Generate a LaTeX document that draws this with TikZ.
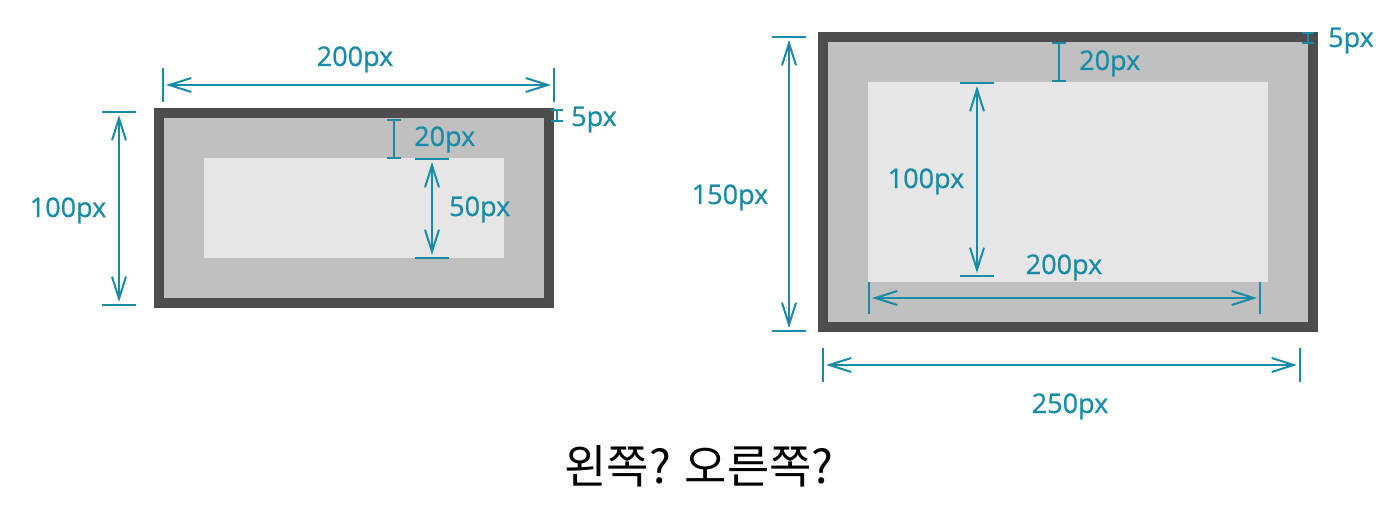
\documentclass[tikz,border=0pt]{standalone}
\usepackage{fontspec}
\setmainfont{Open Sans}
\newfontfamily\dimfont{Open Sans}[FakeBold=0.7]
\newfontfamily\kofont{Noto Sans CJK KR}
\usetikzlibrary{arrows.meta}
\definecolor{dimblue}{RGB}{24,139,168}
\definecolor{borderdark}{RGB}{77,77,77}
\definecolor{padgray}{RGB}{192,192,192}
\definecolor{contentgray}{RGB}{230,230,230}
\begin{document}
\begin{tikzpicture}[x=1pt, y=-1pt,
			dim_style/.style={draw=dimblue, line width=2pt, shorten >=3pt, shorten <=3pt,
				{Straight Barb[length=22pt,width=14pt]}-{Straight Barb[length=22pt,width=14pt]}},
			tick_style/.style={draw=dimblue, line width=2pt},
			label_style/.style={text=dimblue, inner sep=0pt, anchor=base, font=\dimfont\fontsize{27}{30}\selectfont}]
			\useasboundingbox (0,0) rectangle (1400,508);
			% left box
			\fill[borderdark] (154,108) rectangle (554,308);
			\fill[padgray] (164,118) rectangle (544,298);
			\fill[contentgray] (204,158) rectangle (504,258);
			% right box
			\fill[borderdark] (818,32) rectangle (1318,332);
			\fill[padgray] (828,42) rectangle (1308,322);
			\fill[contentgray] (868,82) rectangle (1268,282);
			% end points of the measures
			\coordinate (lw_a) at (163,85);   \coordinate (lw_b) at (554,85);
			\coordinate (lh_a) at (119,112);  \coordinate (lh_b) at (119,305);
			\coordinate (lb_a) at (557,110);  \coordinate (lb_b) at (557,121);
			\coordinate (lm_a) at (394,120);  \coordinate (lm_b) at (394,158);
			\coordinate (lc_a) at (432,159);  \coordinate (lc_b) at (432,258);
			\coordinate (rh_a) at (789,37);   \coordinate (rh_b) at (789,331);
			\coordinate (rb_a) at (1308,33);  \coordinate (rb_b) at (1308,43);
			\coordinate (rm_a) at (1059,43);  \coordinate (rm_b) at (1059,81);
			\coordinate (rc_a) at (977,83);   \coordinate (rc_b) at (977,276);
			\coordinate (rcw_a) at (869,298); \coordinate (rcw_b) at (1260,298);
			\coordinate (rw_a) at (823,365);  \coordinate (rw_b) at (1300,365);
			% ticks
			\foreach \c in {lw_a,lw_b} \draw[tick_style] ([yshift=17pt]\c) -- ([yshift=-17pt]\c);
			\foreach \c in {rcw_a,rcw_b} \draw[tick_style] ([yshift=16pt]\c) -- ([yshift=-16pt]\c);
			\foreach \c in {rw_a,rw_b} \draw[tick_style] ([yshift=17pt]\c) -- ([yshift=-17pt]\c);
			\foreach \c in {lh_a,lh_b,rh_a,rh_b,rc_a,rc_b} \draw[tick_style] ([xshift=-17pt]\c) -- ([xshift=17pt]\c);
			\foreach \c in {lc_a,lc_b} \draw[tick_style] ([xshift=-17pt]\c) -- ([xshift=17pt]\c);
			\foreach \c in {lm_a,lm_b,rm_a,rm_b} \draw[tick_style] ([xshift=-7pt]\c) -- ([xshift=7pt]\c);
			\foreach \c in {lb_a,lb_b,rb_a,rb_b} \draw[tick_style] ([xshift=-6pt]\c) -- ([xshift=6pt]\c);
			% measures
			\draw[dim_style] (lw_a) -- (lw_b);
			\draw[dim_style] (lh_a) -- (lh_b);
			\draw[dim_style] (lc_a) -- (lc_b);
			\draw[dim_style] (rh_a) -- (rh_b);
			\draw[dim_style] (rc_a) -- (rc_b);
			\draw[dim_style] (rcw_a) -- (rcw_b);
			\draw[dim_style] (rw_a) -- (rw_b);
			\draw[tick_style] (lb_a) -- (lb_b);
			\draw[tick_style] (lm_a) -- (lm_b);
			\draw[tick_style] (rb_a) -- (rb_b);
			\draw[tick_style] (rm_a) -- (rm_b);
			% labels
			\node[label_style] (lw_t) at (355,66) {200px};
			\node[label_style] (lh_t) at (68,217) {100px};
			\node[label_style, anchor=base west] (lb_t) at (571,126) {5px};
			\node[label_style, anchor=base west] (lm_t) at (414,146) {20px};
			\node[label_style, anchor=base west] (lc_t) at (449,216) {50px};
			\node[label_style] (rh_t) at (730,204) {150px};
			\node[label_style, anchor=base west] (rb_t) at (1328,47) {5px};
			\node[label_style, anchor=base west] (rm_t) at (1079,70) {20px};
			\node[label_style] (rc_t) at (926,188) {100px};
			\node[label_style] (rcw_t) at (1064,274) {200px};
			\node[label_style] (rw_t) at (1070,413) {250px};
			\node[inner sep=0pt, anchor=base, font=\kofont\fontsize{46}{50}\selectfont] (question) at (699,483) {왼쪽? 오른쪽?};
\end{tikzpicture}
\end{document}
